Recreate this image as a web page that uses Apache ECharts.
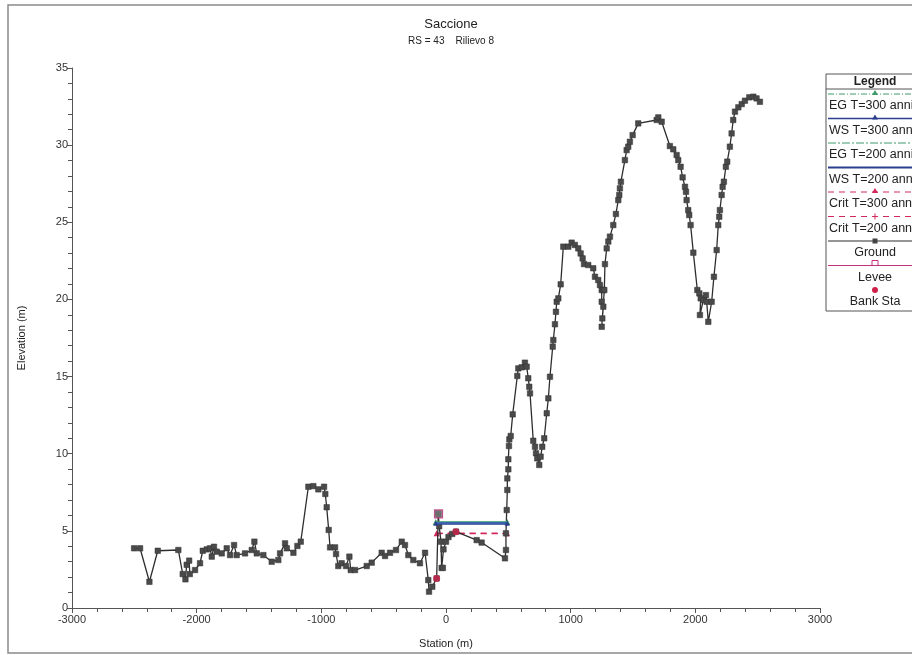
<!DOCTYPE html>
<html>
<head>
<meta charset="utf-8">
<script src="https://cdn.jsdelivr.net/npm/echarts@6/dist/echarts.min.js"></script>
<style>
  html, body { margin: 0; padding: 0; background: #ffffff; }
  #chart { width: 912px; height: 655px; }
</style>
</head>
<body>
<div id="chart"></div>
<script>
// ---- Data ----
const groundStation = [-2502,-2454,-2379,-2312,-2147,-2112,-2090,-2080,-2060,-2055,-2013,-1973,-1951,-1919,-1893,-1879,-1861,-1839,-1799,-1759,-1732,-1700,-1679,-1612,-1558,-1537,-1518,-1465,-1398,-1345,-1331,-1291,-1277,-1224,-1192,-1165,-1104,-1064,-1024,-978,-968,-957,-941,-930,-890,-882,-864,-837,-802,-775,-764,-730,-636,-596,-516,-489,-449,-401,-355,-329,-302,-262,-209,-168,-142,-136,-110,-75,-62,-55,-40,-35,-25,-20,0,20,50,80,246,286,473,481,481,487,492,492,500,500,505,508,519,535,572,580,607,633,647,660,668,674,700,714,722,732,748,759,772,788,808,821,834,856,861,874,882,888,901,920,941,981,1008,1034,1061,1080,1096,1107,1141,1181,1195,1221,1235,1249,1262,1249,1262,1254,1249,1270,1275,1289,1302,1315,1342,1363,1382,1390,1395,1403,1435,1449,1462,1475,1497,1542,1690,1703,1730,1796,1823,1850,1863,1882,1898,1917,1925,1930,1943,1951,1962,1984,2016,2032,2043,2037,2064,2085,2091,2104,2131,2149,2171,2184,2192,2197,2211,2219,2229,2245,2256,2277,2291,2304,2318,2345,2372,2398,2433,2465,2491,2518];
const groundElev = [3.87,3.87,1.70,3.71,3.76,2.2,1.86,2.8,3.07,2.2,2.46,2.9,3.71,3.8,3.87,3.33,3.97,3.65,3.54,3.87,3.43,4.08,3.43,3.54,3.76,4.3,3.54,3.43,3.0,3.11,3.54,4.19,3.87,3.58,4.02,4.3,7.86,7.9,7.69,7.86,7.39,6.53,5.06,3.93,3.93,3.5,2.72,2.9,2.72,3.33,2.46,2.46,2.72,2.94,3.58,3.37,3.58,3.76,4.3,4.08,3.43,3.11,2.9,3.58,1.81,1.06,1.38,1.92,6.1,5.3,4.3,2.6,2.6,3.8,4.3,4.6,4.8,4.95,4.4,4.24,3.22,3.76,4.84,6.35,7.65,8.4,8.99,9.64,10.5,10.93,11.15,12.55,15.04,15.53,15.6,15.9,15.64,14.89,14.34,13.91,10.84,10.45,10.03,9.7,9.27,9.81,10.45,11.0,12.62,13.59,14.99,16.94,17.37,18.39,19.2,19.85,20.07,20.98,23.42,23.42,23.68,23.53,23.31,22.98,22.66,22.29,22.23,22.02,21.47,21.26,20.93,20.61,20.61,19.85,19.53,18.77,18.23,20.61,22.29,23.31,23.75,24.07,24.82,25.54,26.44,26.77,27.2,27.63,29.03,29.68,29.9,30.22,30.65,31.41,31.63,31.8,31.52,29.94,29.73,29.36,29.03,28.6,27.91,27.3,26.98,26.44,25.79,25.47,24.82,23.03,20.61,20.39,20.07,18.99,19.96,20.28,19.85,18.55,19.85,21.47,23.2,24.82,25.36,25.79,26.77,27.3,27.63,28.6,28.93,29.9,30.76,31.63,32.17,32.45,32.66,32.88,33.1,33.14,33.03,32.81];

const wsStation = [-82, 492];
const egT300 = [5.58, 5.58];
const wsT300 = [5.50, 5.50];
const egT200 = [5.55, 5.55];
const wsT200 = [5.44, 5.44];
const critStation = [-75, 490];
const critT300 = [4.84, 4.84];
const critT200 = [4.82, 4.82];
const leveeStation = [-60];
const leveeElev = [6.1];
const bankStation = [-75, 80];
const bankElev = [1.92, 4.95];

const xTicks = { min: -3000, max: 3000, interval: 1000 };
const yTicks = { min: 0, max: 35, interval: 5 };

const legendNames = ['EG T=300 anni','WS T=300 anni','EG T=200 anni','WS T=200 anni','Crit T=300 anni','Crit T=200 anni','Ground','Levee','Bank Sta'];

// ---- Helpers ----
const pairs = (xs, ys) => xs.map((x, i) => [x, ys[i]]);

const C_EG = '#3f9a6c', C_WS = '#2c3f8e', C_CRIT = '#d3285a', C_GROUND = '#2e2e2e', C_LEVEE = '#c2307e', C_BANK = '#d0204a';
const FONT = 'Liberation Sans, Arial, sans-serif';

const chart = echarts.init(document.getElementById('chart'));

// Legend graphic
const LX = 826, LW = 110, LT = 74, LH = 237, LC = 875, TXL = 829;
const legendEls = [];
legendEls.push({ type: 'rect', shape: { x: LX, y: LT, width: LW, height: LH }, style: { fill: '#fff', stroke: '#555', lineWidth: 1 } });
legendEls.push({ type: 'text', x: LC, y: 82, style: { text: 'Legend', fontFamily: FONT, fontSize: 12, fontWeight: 'bold', fill: '#222', align: 'center', verticalAlign: 'middle' } });
legendEls.push({ type: 'line', shape: { x1: LX, y1: 89, x2: LX + LW, y2: 89 }, style: { stroke: '#555', lineWidth: 1 } });
const sampleStyles = [
  { stroke: C_EG, lineDash: [6, 2, 1, 2], lineWidth: 1.2, marker: 'tri', mcolor: C_EG },
  { stroke: C_WS, lineDash: null, lineWidth: 1.5, marker: 'tri', mcolor: C_WS },
  { stroke: C_EG, lineDash: [8, 2, 2, 2], lineWidth: 1, marker: null },
  { stroke: C_WS, lineDash: null, lineWidth: 1.8, marker: null },
  { stroke: C_CRIT, lineDash: [6, 5], lineWidth: 1.2, marker: 'tri', mcolor: C_CRIT },
  { stroke: C_CRIT, lineDash: [6, 5], lineWidth: 1, marker: 'plus', mcolor: C_CRIT },
  { stroke: C_GROUND, lineDash: null, lineWidth: 1.2, marker: 'sq', mcolor: '#444' },
  { stroke: C_LEVEE, lineDash: null, lineWidth: 1.2, marker: 'open', mcolor: C_LEVEE },
  { stroke: null, marker: 'dot', mcolor: C_BANK }
];
legendNames.forEach((name, i) => {
  const ly = 94 + 24.5 * i, ty = 106 + 24.5 * i;
  const s = sampleStyles[i];
  const mx = LC;
  if (s.stroke) {
    legendEls.push({ type: 'line', shape: { x1: LX + 2, y1: ly, x2: LX + LW, y2: ly }, style: { stroke: s.stroke, lineWidth: s.lineWidth, lineDash: s.lineDash } });
  }
  if (s.marker === 'tri') {
    legendEls.push({ type: 'polygon', shape: { points: [[mx, ly - 4], [mx - 3, ly + 1], [mx + 3, ly + 1]] }, style: { fill: s.mcolor } });
  } else if (s.marker === 'plus') {
    legendEls.push({ type: 'line', shape: { x1: mx, y1: ly - 3, x2: mx, y2: ly + 3 }, style: { stroke: s.mcolor, lineWidth: 1 } });
  } else if (s.marker === 'sq') {
    legendEls.push({ type: 'rect', shape: { x: mx - 2.5, y: ly - 2.5, width: 5, height: 5 }, style: { fill: s.mcolor } });
  } else if (s.marker === 'open') {
    legendEls.push({ type: 'polyline', shape: { points: [[mx - 3, ly], [mx - 3, ly - 5], [mx + 3, ly - 5], [mx + 3, ly]] }, style: { stroke: s.mcolor, lineWidth: 1, fill: null } });
  } else if (s.marker === 'dot') {
    legendEls.push({ type: 'circle', shape: { cx: mx, cy: ly, r: 3 }, style: { fill: s.mcolor } });
  }
  const long = name.length > 9;
  legendEls.push({ type: 'text', x: long ? TXL : LC, y: ty, style: { text: name, fontFamily: FONT, fontSize: 12.5, fill: '#222', align: long ? 'left' : 'center', verticalAlign: 'middle' } });
});

const option = {
  backgroundColor: '#ffffff',
  animation: false,
  textStyle: { fontFamily: FONT },
  title: {
    text: 'Saccione',
    subtext: 'RS = 43    Rilievo 8',
    left: 446, top: 13, textAlign: 'center', itemGap: 5,
    textStyle: { fontSize: 13, fontWeight: 'normal', color: '#222', fontFamily: FONT },
    subtextStyle: { fontSize: 10, color: '#222', fontFamily: FONT }
  },
  grid: { left: 72, right: 92, top: 68, bottom: 47, containLabel: false },
  xAxis: {
    type: 'value', min: xTicks.min, max: xTicks.max, interval: xTicks.interval,
    name: 'Station (m)', nameLocation: 'middle', nameGap: 30,
    nameTextStyle: { fontSize: 11, color: '#222' },
    axisLine: { show: true, onZero: false, lineStyle: { color: '#555', width: 1 } },
    axisTick: { show: true, inside: false, length: 5, lineStyle: { color: '#555' } },
    minorTick: { show: true, splitNumber: 5, length: 4, lineStyle: { color: '#555' } },
    axisLabel: { fontSize: 11, color: '#333', margin: 6, formatter: v => String(v) },
    splitLine: { show: false }
  },
  yAxis: {
    type: 'value', min: yTicks.min, max: yTicks.max, interval: yTicks.interval,
    name: 'Elevation (m)', nameLocation: 'middle', nameGap: 45,
    nameTextStyle: { fontSize: 11, color: '#222' },
    axisLine: { show: true, onZero: false, lineStyle: { color: '#555', width: 1 } },
    axisTick: { show: true, inside: false, length: 5, lineStyle: { color: '#555' } },
    minorTick: { show: true, splitNumber: 5, length: 4, lineStyle: { color: '#555' } },
    axisLabel: { fontSize: 11, color: '#333', margin: 4, formatter: v => String(v) },
    splitLine: { show: false }
  },
  graphic: [
    { type: 'rect', shape: { x: 8, y: 5, width: 940, height: 648 }, style: { fill: null, stroke: '#8a8a8a', lineWidth: 1.5 }, z: 100 },
    { type: 'group', children: legendEls, z: 100 }
  ],
  series: [
    { name: 'Crit T=200 anni', type: 'line', data: pairs(critStation, critT200), symbol: 'none',
      lineStyle: { color: C_CRIT, width: 1.2, type: [6, 5] }, z: 3 },
    { name: 'Crit T=300 anni', type: 'line', data: pairs(critStation, critT300), symbol: 'triangle', symbolSize: 6,
      itemStyle: { color: C_CRIT }, lineStyle: { color: C_CRIT, width: 1.5, type: [6, 5] }, z: 3 },
    { name: 'Ground', type: 'line', data: pairs(groundStation, groundElev), symbol: 'rect', symbolSize: 5.5,
      itemStyle: { color: '#4a4a4a', borderColor: '#333', borderWidth: 0.5 }, lineStyle: { color: C_GROUND, width: 1.3 }, z: 4 },
    { name: 'EG T=200 anni', type: 'line', data: pairs(wsStation, egT200), symbol: 'none',
      lineStyle: { color: C_EG, width: 1.2 }, z: 5 },
    { name: 'EG T=300 anni', type: 'line', data: pairs(wsStation, egT300), symbol: 'triangle', symbolSize: 6,
      itemStyle: { color: C_EG }, lineStyle: { color: C_EG, width: 1.2 }, z: 5 },
    { name: 'WS T=200 anni', type: 'line', data: pairs(wsStation, wsT200), symbol: 'none',
      lineStyle: { color: C_WS, width: 1.6 }, z: 6 },
    { name: 'WS T=300 anni', type: 'line', data: pairs(wsStation, wsT300), symbol: 'triangle', symbolSize: 5,
      itemStyle: { color: C_WS }, lineStyle: { color: '#3a5ab8', width: 1.6 }, z: 6 },
    { name: 'Levee', type: 'scatter', data: pairs(leveeStation, leveeElev), symbol: 'rect', symbolSize: 8,
      itemStyle: { color: '#777', borderColor: C_LEVEE, borderWidth: 1.2 }, z: 7 },
    { name: 'Bank Sta', type: 'scatter', data: pairs(bankStation, bankElev), symbol: 'circle', symbolSize: 7,
      itemStyle: { color: C_BANK }, z: 7 }
  ]
};
chart.setOption(option);
</script>
</body>
</html>
